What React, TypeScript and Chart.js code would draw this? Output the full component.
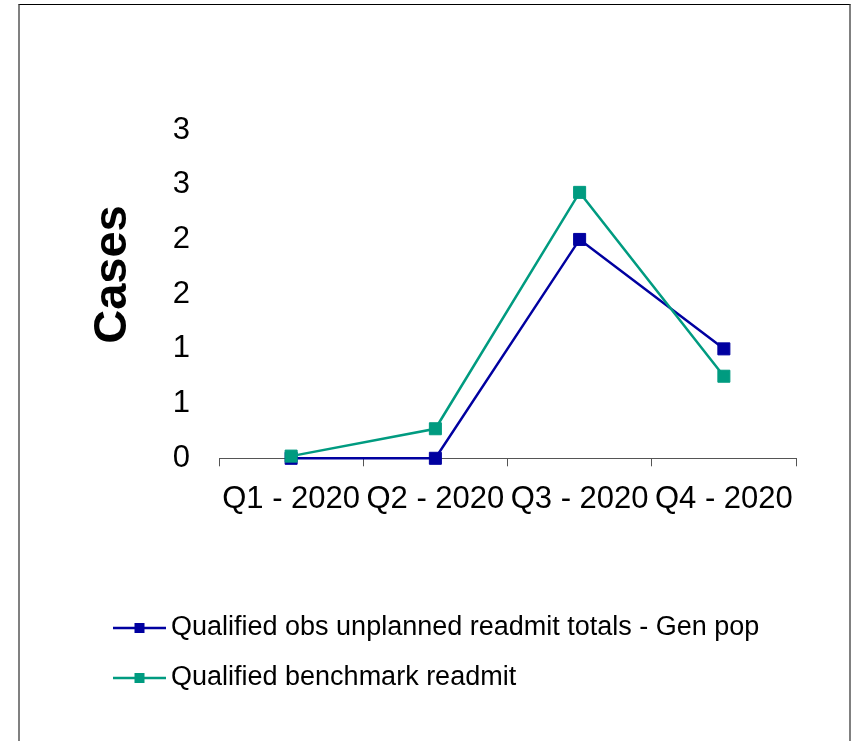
import React, { useEffect, useRef } from "react";
import { Chart, registerables } from "chart.js";

Chart.register(...registerables);

const categories = ["Q1 - 2020", "Q2 - 2020", "Q3 - 2020", "Q4 - 2020"];
const obsReadmit = [0, 0, 2, 1];
const benchmarkReadmit = [0.02, 0.27, 2.43, 0.75];
const seriesLabels = [
  "Qualified obs unplanned readmit totals - Gen pop",
  "Qualified benchmark readmit",
];
const seriesColors = ["#0000A0", "#009B80"];
const yTitle = "Cases";

const FONT = '"Liberation Sans", Arial, sans-serif';
const CW = 829;
const CH = 736;

const lineLegend = {
  id: "lineLegend",
  afterDraw(chart: any) {
    const ctx = chart.ctx;
    const ds = chart.data.datasets;
    ctx.save();
    ds.forEach((d: any, i: number) => {
      const y = 623 + i * 50;
      ctx.strokeStyle = d.borderColor;
      ctx.lineWidth = 2.5;
      ctx.beginPath();
      ctx.moveTo(93, y);
      ctx.lineTo(146, y);
      ctx.stroke();
      ctx.fillStyle = d.borderColor;
      ctx.fillRect(114.5, y - 5, 10, 10);
      ctx.fillStyle = "#000";
      ctx.font = `27px ${FONT}`;
      ctx.textBaseline = "middle";
      ctx.textAlign = "left";
      ctx.fillText(d.label, 151, y);
    });
    ctx.restore();
  },
};

export default function App() {
  const ref = useRef<HTMLCanvasElement | null>(null);

  useEffect(() => {
    if (!ref.current) return;
    Chart.defaults.font.family = FONT;
    const chart = new Chart(ref.current, {
      type: "line",
      data: {
        labels: categories,
        datasets: [
          {
            label: seriesLabels[0],
            data: obsReadmit,
            borderColor: seriesColors[0],
            backgroundColor: seriesColors[0],
            borderWidth: 2.5,
            pointStyle: "rect",
            pointRadius: 8.5,
            pointBorderWidth: 1,
            pointBackgroundColor: seriesColors[0],
            pointBorderColor: seriesColors[0],
            tension: 0,
            order: 1,
            clip: false,
          },
          {
            label: seriesLabels[1],
            data: benchmarkReadmit,
            borderColor: seriesColors[1],
            backgroundColor: seriesColors[1],
            borderWidth: 2.5,
            pointStyle: "rect",
            pointRadius: 8.5,
            pointBorderWidth: 1,
            pointBackgroundColor: seriesColors[1],
            pointBorderColor: seriesColors[1],
            tension: 0,
            order: 0,
            clip: false,
          },
        ],
      },
      options: {
        animation: false,
        responsive: false,
        layout: { padding: { top: 125, left: 56.8, right: 53, bottom: 212.7 } },
        plugins: {
          legend: { display: false },
          tooltip: { enabled: false },
        },
        scales: {
          x: {
            offset: true,
            grid: {
              display: true,
              offset: true,
              drawOnChartArea: false,
              drawTicks: true,
              tickLength: 8,
              color: "#555555",
              lineWidth: 1,
            },
            border: { display: true, color: "#555555", width: 1 },
            ticks: {
              color: "#000",
              font: { size: 31, family: FONT },
              padding: 15,
              maxRotation: 0,
              autoSkip: false,
            },
            afterFit: (s: any) => {
              s.height = 70;
            },
          },
          y: {
            min: 0,
            max: 3,
            grid: { display: false, drawTicks: false },
            border: { display: false },
            ticks: {
              stepSize: 0.5,
              color: "#000",
              font: { size: 31, family: FONT },
              padding: 29,
              callback: (v: any) => String(Math.round(Number(v))),
            },
            title: {
              display: true,
              text: "   " + yTitle,
              color: "#000",
              font: { size: 47, weight: "bold", family: FONT },
              padding: { top: 8, bottom: 4 },
            },
            afterFit: (s: any) => {
              s.width = 142.2;
            },
          },
        },
      },
      plugins: [lineLegend],
    });
    return () => chart.destroy();
  }, []);

  return (
    <div
      style={{
        position: "absolute",
        left: 18,
        top: 4,
        width: 833,
        height: 737,
        boxSizing: "border-box",
        borderTop: "1px solid #000",
        borderLeft: "2px solid #808080",
        borderRight: "2px solid #808080",
        background: "#fff",
      }}
    >
      <canvas ref={ref} width={CW} height={CH} style={{ display: "block" }} />
    </div>
  );
}
